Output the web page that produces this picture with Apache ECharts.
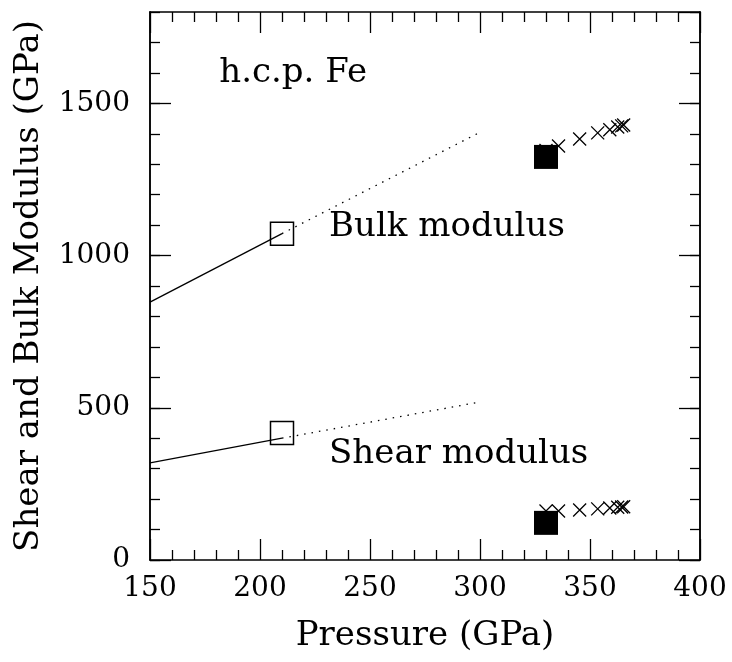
<!DOCTYPE html>
<html>
<head>
<meta charset="utf-8">
<script src="https://cdn.jsdelivr.net/npm/echarts@6/dist/echarts.min.js"></script>
<style>
  html, body { margin: 0; padding: 0; background: #fff; }
  #chart { width: 732px; height: 662px; }
</style>
</head>
<body>
<div id="chart"></div>
<script>
// Elastic moduli of h.c.p. iron versus pressure (GPa)
const bulkSolid   = [[150, 847], [210, 1072]];
const bulkDotted  = [[210, 1072], [300, 1405]];
const shearSolid  = [[150, 319], [210, 400]];
const shearDotted = [[210, 400], [300, 519]];

const openSquares = [[210, 1072], [210, 417]];
const filledSquares = [[330, 1324], [330, 122]];

const crossPressure = [330, 335.7, 345.3, 353.5, 359, 362.6, 364.4, 365.3];
const bulkCross  = [1345, 1360, 1383, 1403, 1413, 1422, 1426, 1429];
const shearCross = [161, 161, 164, 168, 171, 173, 174, 175];

const xTicks = [150, 200, 250, 300, 350, 400];
const yTicks = [0, 500, 1000, 1500];

const FONT = 'DejaVu Serif';
const INK = '#000';
const TICK_FS = 28;
const TEXT_FS = 34;

const chart = echarts.init(document.getElementById('chart'), null, { renderer: 'canvas' });

const lineAxis = { lineStyle: { color: INK, width: 1.5 } };

function xAx(pos, withLabels) {
  return {
    type: 'value', position: pos, min: xTicks[0], max: xTicks[xTicks.length - 1], interval: 50,
    axisLine: { show: true, onZero: false, ...lineAxis },
    axisTick: { inside: true, length: 21, lineStyle: { color: INK, width: 1.3 } },
    minorTick: { show: true, splitNumber: 5, length: 10, lineStyle: { color: INK, width: 1.3 } },
    splitLine: { show: false },
    axisLabel: { show: withLabels, margin: 15, color: INK, fontFamily: FONT, fontSize: TICK_FS },
    name: withLabels ? 'Pressure (GPa)' : '',
    nameLocation: 'middle', nameGap: 59,
    nameTextStyle: { color: INK, fontFamily: FONT, fontSize: TEXT_FS }
  };
}

function yAx(pos, major, withLabels) {
  return {
    type: 'value', position: pos, min: 0, max: 1800, interval: major ? 500 : 100,
    axisLine: { show: true, onZero: false, ...lineAxis },
    axisTick: { inside: true, length: major ? 21 : 10, lineStyle: { color: INK, width: 1.3 } },
    splitLine: { show: false },
    axisLabel: {
      show: withLabels, showMaxLabel: false, margin: 20, color: INK, fontFamily: FONT, fontSize: TICK_FS,
      formatter: v => (yTicks.includes(v) ? String(v) : '')
    },
    name: withLabels ? 'Shear and Bulk Modulus (GPa)' : '',
    nameLocation: 'middle', nameGap: 104,
    nameTextStyle: { color: INK, fontFamily: FONT, fontSize: TEXT_FS }
  };
}

function line(data, type) {
  return {
    type: 'line', data, showSymbol: false, symbol: 'none', silent: true,
    lineStyle: { color: INK, width: 1.3, type: type }, z: 2
  };
}

function pairs(ys) { return crossPressure.map((p, i) => [p, ys[i]]); }

const crossStyle = {
  type: 'scatter', symbol: 'path://M0,0L10,10M10,0L0,10', symbolSize: 13, silent: true,
  itemStyle: { color: 'none', borderColor: INK, borderWidth: 1.3, opacity: 1 }, z: 3
};

function note(x, y, text) {
  return {
    type: 'scatter', symbolSize: 0, silent: true, z: 5,
    data: [[x, y]],
    itemStyle: { opacity: 1 },
    label: { show: true, position: 'right', distance: 0, formatter: text,
             color: INK, fontFamily: FONT, fontSize: TEXT_FS }
  };
}

chart.setOption({
  animation: false,
  backgroundColor: '#fff',
  grid: { left: 150, right: 32, top: 12, bottom: 102 },
  xAxis: [xAx('bottom', true), xAx('top', false)],
  yAxis: [yAx('left', true, true), yAx('left', false, false), yAx('right', true, false), yAx('right', false, false)],
  series: [
    line(bulkSolid, 'solid'),
    line(bulkDotted, [1.5, 6]),
    line(shearSolid, 'solid'),
    line(shearDotted, [1.5, 6]),
    {
      type: 'scatter', data: openSquares, symbol: 'rect', symbolSize: 23, silent: true,
      itemStyle: { color: 'rgba(0,0,0,0)', borderColor: INK, borderWidth: 1.5, opacity: 1 }, z: 3
    },
    { ...crossStyle, data: pairs(bulkCross) },
    { ...crossStyle, data: pairs(shearCross) },
    {
      type: 'scatter', data: filledSquares, symbol: 'rect', symbolSize: 24, silent: true,
      itemStyle: { color: INK, opacity: 1 }, z: 4
    },
    note(181.5, 1600, 'h.c.p. Fe'),
    note(231.4, 1094, 'Bulk modulus'),
    note(231.4, 348, 'Shear modulus')
  ]
});
</script>
</body>
</html>
